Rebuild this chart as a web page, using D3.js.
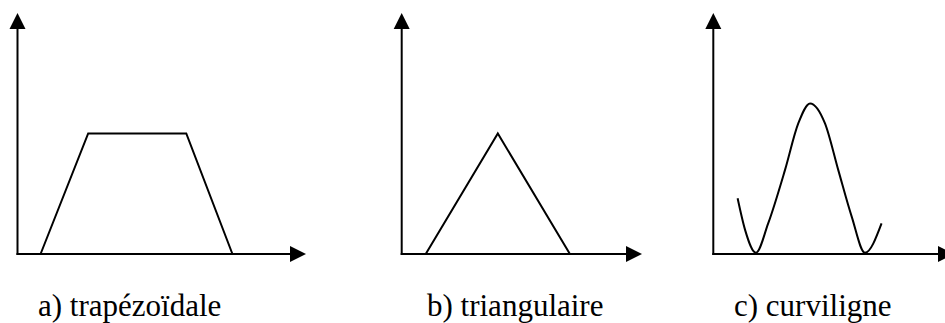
<!DOCTYPE html>
<html lang="fr">
<head>
<meta charset="utf-8">
<title>Fonctions d'appartenance</title>
<script src="https://d3js.org/d3.v7.min.js"></script>
<style>
  body { margin: 0; background: #fff; }
  svg { display: block; background: #fff; }
</style>
</head>
<body>
<svg id="chart" width="945" height="323"></svg>
<script>
// ---- data (axis units 0..10) ----
var labels = ["a) trapézoïdale", "b) triangulaire", "c) curviligne"]
var axisMax = 10

var trapX = [0.8, 2.45, 5.85, 7.45]
var trapY = [0, 5, 5, 0]

var triX = [1, 4, 7]
var triY = [0, 5, 0]

var curveX = [1.01, 1.32, 1.77, 2.28, 2.98, 3.53, 4.02, 4.64, 5.19, 5.75, 6.30, 6.99]
var curveY = [2.31, 1.0, 0.05, 1.27, 3.49, 5.42, 6.25, 5.42, 3.49, 1.55, 0.05, 1.27]

// ---- layout ----
var panels = [
  { x0: 17.5, y0: 254, w: 288.5, h: 241, labelX: 38,  xs: trapX,  ys: trapY,  curve: d3.curveLinear },
  { x0: 401.7, y0: 254, w: 240.3, h: 241, labelX: 427, xs: triX,   ys: triY,   curve: d3.curveLinear },
  { x0: 713.3, y0: 254, w: 240.7, h: 241, labelX: 734, xs: curveX, ys: curveY, curve: d3.curveMonotoneX }
]
var arrowLen = 16, arrowHalf = 8
var labelY = 316
var serif = "'Liberation Serif', 'Times New Roman', Times, 'DejaVu Serif', serif"

var svg = d3.select("#chart")

panels.forEach(function(p, i) {
  var x = d3.scaleLinear().domain([0, axisMax]).range([p.x0, p.x0 + p.w])
  var y = d3.scaleLinear().domain([0, axisMax]).range([p.y0, p.y0 - p.h])

  var g = svg.append("g").attr("class", "panel")

  // axes
  g.append("line")
    .attr("x1", x(0)).attr("y1", y(0) + 1)
    .attr("x2", x(0)).attr("y2", y(axisMax) + arrowLen)
    .attr("stroke", "#000").attr("stroke-width", 2)
  g.append("line")
    .attr("x1", x(0) - 1).attr("y1", y(0))
    .attr("x2", x(axisMax) - arrowLen).attr("y2", y(0))
    .attr("stroke", "#000").attr("stroke-width", 2)

  // arrow heads
  g.append("path")
    .attr("d", "M" + x(0) + "," + y(axisMax) +
               "L" + (x(0) - arrowHalf) + "," + (y(axisMax) + arrowLen) +
               "L" + (x(0) + arrowHalf) + "," + (y(axisMax) + arrowLen) + "Z")
    .attr("fill", "#000")
  g.append("path")
    .attr("d", "M" + x(axisMax) + "," + y(0) +
               "L" + (x(axisMax) - arrowLen) + "," + (y(0) - arrowHalf) +
               "L" + (x(axisMax) - arrowLen) + "," + (y(0) + arrowHalf) + "Z")
    .attr("fill", "#000")

  // membership shape
  var pts = p.xs.map(function(v, k) { return [v, p.ys[k]] })
  var line = d3.line()
    .x(function(d) { return x(d[0]) })
    .y(function(d) { return y(d[1]) })
    .curve(p.curve)
  g.append("path")
    .datum(pts)
    .attr("d", line)
    .attr("fill", "none")
    .attr("stroke", "#000")
    .attr("stroke-width", 2)
    .attr("stroke-linejoin", "miter")

  // label
  svg.append("text")
    .attr("x", p.labelX)
    .attr("y", labelY)
    .style("font-family", serif)
    .style("font-size", "31px")
    .attr("fill", "#000")
    .text(labels[i])
})
</script>
</body>
</html>
